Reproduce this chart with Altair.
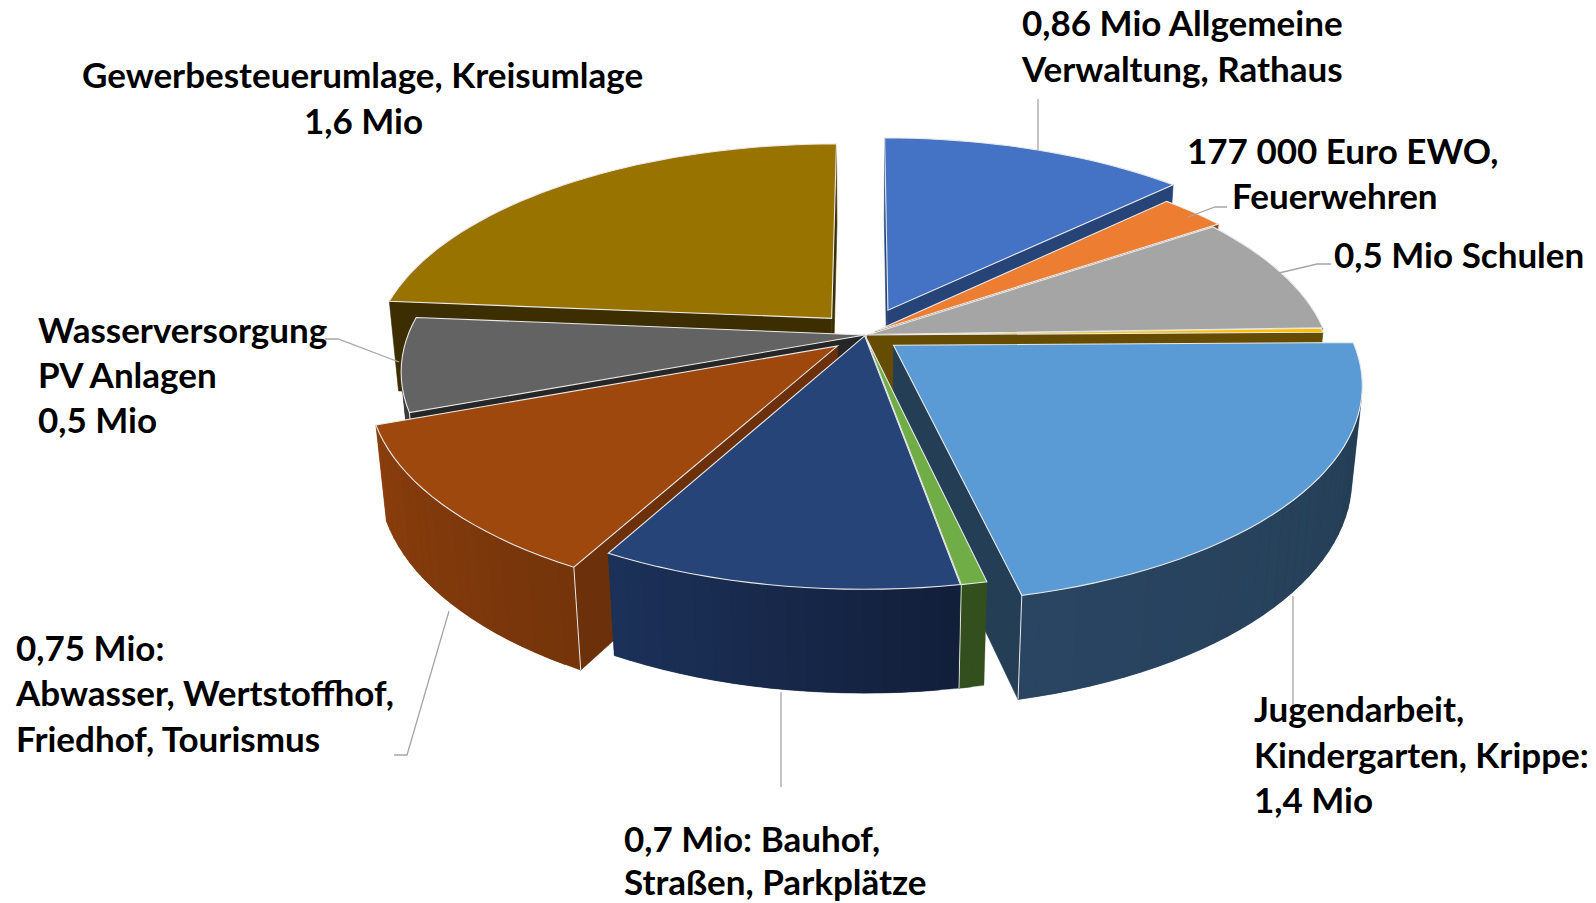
import math
import altair as alt

# values (Mio Euro) clockwise from 12 o'clock
names = ["Verwaltung", "Feuerwehren", "Schulen", "Sonstiges", "Kinder", "Gruen", "Bauhof", "Abwasser", "Wasser", "Umlagen"]
values = [0.835, 0.18, 0.59, 0.02, 1.42, 0.05, 0.70, 0.75, 0.46, 1.55]
explode = [60, 14, 4, 2, 36, 2, 2, 36, 0, 50]
top_colors = ["#4472C4", "#ED7D31", "#A5A5A5", "#FFC000", "#5B9BD5", "#70AD47", "#264478", "#9E480E", "#636363", "#997300"]
wall_colors = ["#264478", "#8E4B1D", "#636363", "#664C00", "#243F55", "#334F1E", "#1B3159", "#6C300A", "#262626", "#3D2E00"]
arc_left = ["#294A86", "#8E4B1D", "#636363", "#664C00", "#2A4562", "#334F1E", "#1C3159", "#8A3E0C", "#3C3C3C", "#5A4500"]
arc_right = ["#294A86", "#8E4B1D", "#636363", "#664C00", "#233D52", "#334F1E", "#121F3B", "#75340A", "#3C3C3C", "#3D2E00"]
paint_order = [9, 0, 8, 1, 2, 3, 4, 7, 5, 6]

label_lines = ["0,86 Mio Allgemeine", "Verwaltung, Rathaus", "Gewerbesteuerumlage, Kreisumlage", "1,6 Mio",
               "177 000 Euro EWO,", "Feuerwehren", "0,5 Mio Schulen", "Wasserversorgung", "PV Anlagen", "0,5 Mio",
               "0,75 Mio:", "Abwasser, Wertstoffhof,", "Friedhof, Tourismus", "Jugendarbeit,", "Kindergarten, Krippe:",
               "1,4 Mio", "0,7 Mio: Bauhof,", "Straßen, Parkplätze"]
label_x = [1022, 1022, 82, 304, 1187, 1232, 1334, 38, 38, 38, 16, 16, 16, 1254, 1254, 1254, 624, 624]
label_y = [25, 71, 77, 123, 153, 198, 257, 332, 377, 422, 650, 695, 741, 711, 757, 802, 841, 884]

leaders = [
    [(1038, 99), (1038, 151)],
    [(1188, 217), (1215, 207), (1227, 207)],
    [(1279, 273), (1317, 264), (1331, 264)],
    [(325, 339), (338, 339), (399, 362)],
    [(449, 611), (407, 755), (394, 755)],
    [(781, 692), (781, 787)],
    [(1293, 596), (1293, 712)],
]

# projection model of the tilted, exploded pie
CX, CY = 865, 335
R = 457
H = 105
PHI = math.radians(27.3)
DIST = 2369
MARGIN = 8


def project(X, Y, Z):
    depth = DIST + Y * math.cos(PHI) - Z * math.sin(PHI)
    k = DIST / depth
    u = X
    v = Y * math.sin(PHI) + Z * math.cos(PHI)
    return (CX + k * u - MARGIN, CY - k * v - MARGIN)


def shoelace(pts):
    return sum(pts[i][0] * pts[(i + 1) % len(pts)][1] - pts[(i + 1) % len(pts)][0] * pts[i][1] for i in range(len(pts)))


def mix(a, b, t):
    ca = [int(a[i:i + 2], 16) for i in (1, 3, 5)]
    cb = [int(b[i:i + 2], 16) for i in (1, 3, 5)]
    return "#%02x%02x%02x" % tuple(round(x + (y - x) * t) for x, y in zip(ca, cb))


def polygon(pts, fill, stroke=None, sw=0.6):
    ring = [[p[0], p[1]] for p in pts] + [[pts[0][0], pts[0][1]]]
    return {"type": "Feature", "geometry": {"type": "Polygon", "coordinates": [ring]},
            "properties": {"fill": fill, "stroke": stroke or fill, "sw": sw}}


def line(pts, stroke, sw=1.0):
    return {"type": "Feature", "geometry": {"type": "LineString", "coordinates": [[p[0], p[1]] for p in pts]},
            "properties": {"fill": "transparent", "stroke": stroke, "sw": sw}}


total = sum(values)
features = []
cum = 0.0
bounds = []
for v in values:
    bounds.append((cum / total * 2 * math.pi, (cum + v) / total * 2 * math.pi))
    cum += v

EDGE = "#e9e9e9"
for i in paint_order:
    a0, a1 = bounds[i]
    mid = (a0 + a1) / 2
    ox, oy = explode[i] * math.sin(mid), explode[i] * math.cos(mid)
    n = max(2, int((a1 - a0) / math.radians(2)))
    angs = [a0 + (a1 - a0) * j / n for j in range(n + 1)]
    top = [project(ox + R * math.sin(a), oy + R * math.cos(a), 0) for a in angs]
    bot = [project(ox + R * math.sin(a), oy + R * math.cos(a), -H) for a in angs]
    atop, abot = project(ox, oy, 0), project(ox, oy, -H)
    start_wall = [top[0], atop, abot, bot[0]]
    end_wall = [atop, top[-1], bot[-1], abot]
    if shoelace(start_wall) > 0:
        features.append(polygon(start_wall, wall_colors[i]))
    if shoelace(end_wall) > 0:
        features.append(polygon(end_wall, wall_colors[i]))
    # outer wall: overlapping strips, painted so that no seams show
    vis = False
    for j in range(n):
        q = [top[j + 1], top[j], bot[j], bot[j + 1]]
        if shoelace(q) > 0:
            q2 = [top[min(j + 2, n)], top[j], bot[j], bot[min(j + 2, n)]]
            features.append(polygon(q2, mix(arc_right[i], arc_left[i], j / max(1, n - 1)), None, 0.3))
            vis = True
    if vis:
        if shoelace(start_wall) > 0:
            features.append(line([top[0], bot[0]], EDGE))
        if shoelace(end_wall) > 0:
            features.append(line([top[-1], bot[-1]], EDGE))
    features.append(polygon([atop] + top, top_colors[i], EDGE, 1.1))

for pts in leaders:
    features.append(line([(x - MARGIN, y - MARGIN) for x, y in pts], "#a6a6a6", 1.3))

data = alt.InlineData(values={"type": "FeatureCollection", "features": features},
                      format=alt.DataFormat(property="features", type="json"))
proj = dict(type="identity", scale=1, translate=[0, 0])

pie = alt.Chart(data).mark_geoshape().encode(
    fill=alt.Fill("properties.fill:N", scale=None),
    stroke=alt.Stroke("properties.stroke:N", scale=None),
    strokeWidth=alt.StrokeWidth("properties.sw:Q", scale=None),
).project(**proj)

labels = alt.Chart(alt.Data(values=[
    {"t": t, "x": x - MARGIN, "y": y - MARGIN} for t, x, y in zip(label_lines, label_x, label_y)
])).mark_text(font="Lato", fontWeight="bold", fontSize=35, align="left", baseline="middle", color="#000000").encode(
    longitude="x:Q", latitude="y:Q", text="t:N"
).project(**proj)

chart = alt.layer(pie, labels).properties(width=1580, height=895, padding=0, background="white").configure_view(stroke=None)
chart.save("out.html", embed_options={"renderer": "svg", "actions": False})
